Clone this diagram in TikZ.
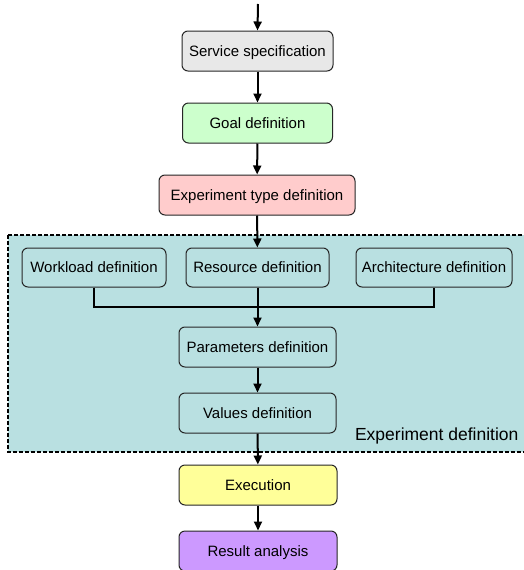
\documentclass[tikz,border=0pt]{standalone}
\usepackage{fontspec}
\setmainfont{Liberation Sans}
\usetikzlibrary{arrows.meta}
\definecolor{svcgray}{RGB}{232,232,232}
\definecolor{goalgreen}{RGB}{204,255,204}
\definecolor{exppink}{RGB}{255,204,204}
\definecolor{execyellow}{RGB}{255,255,153}
\definecolor{respurple}{RGB}{204,153,255}
\definecolor{defteal}{RGB}{185,224,225}
\tikzset{
  box/.style={draw=black!85, line width=1pt, rounded corners=6pt, inner sep=0pt,
    minimum height=40pt, text height=12.7pt, text depth=2pt,
    font=\fontsize{15}{18}\selectfont, align=center},
  flow/.style={line width=2pt, -{Triangle[length=9pt,width=8pt]}},
  link/.style={line width=2pt},
}
\begin{document}
\begin{tikzpicture}[x=1pt,y=-1pt]
\useasboundingbox (0,0) rectangle (524,570);
\clip (0,0) rectangle (524,570);
% experiment definition area
\draw[fill=defteal, dash pattern=on 4pt off 2pt, line width=1.5pt] (8,235) rectangle (540,452);
\node[anchor=base east, font=\fontsize{17.5}{20}\selectfont] (explabel) at (522,440) {Experiment definition};

\coordinate (start) at (258,4);
\node[box, fill=svcgray, minimum width=151pt] (svc) at (257.5,51) {Service specification};
\node[box, fill=goalgreen, minimum width=150pt] (goal) at (257.5,123) {Goal definition};
\node[box, fill=exppink, minimum width=196pt] (exp) at (257,195) {Experiment type definition};
\node[box, minimum width=144pt, minimum height=39pt] (work) at (94,267.5) {Workload definition};
\node[box, minimum width=143pt, minimum height=39pt] (res) at (257.5,267.5) {Resource definition};
\node[box, minimum width=156pt, minimum height=39pt] (arch) at (434,267.5) {Architecture definition};
\node[box, minimum width=157pt] (params) at (257.5,347) {Parameters definition};
\node[box, minimum width=157pt] (values) at (257.5,413) {Values definition};
\node[box, fill=execyellow, minimum width=158pt] (exec) at (258,485) {Execution};
\node[box, fill=respurple, minimum width=158pt] (result) at (258,551) {Result analysis};

\coordinate (jw) at (94,307);
\coordinate (ja) at (434,307);

\draw[flow] (start) -- (svc.north);
\draw[flow] (svc) -- (goal);
\draw[flow] (goal) -- (exp);
\draw[flow] (exp) -- (res);
\draw[link] (work.south) -- (jw) -- (ja) -- (arch.south);
\draw[flow] (res) -- (params);
\draw[flow] (params) -- (values);
\draw[flow] (values) -- (exec);
\draw[flow] (exec) -- (result);
\end{tikzpicture}
\end{document}
